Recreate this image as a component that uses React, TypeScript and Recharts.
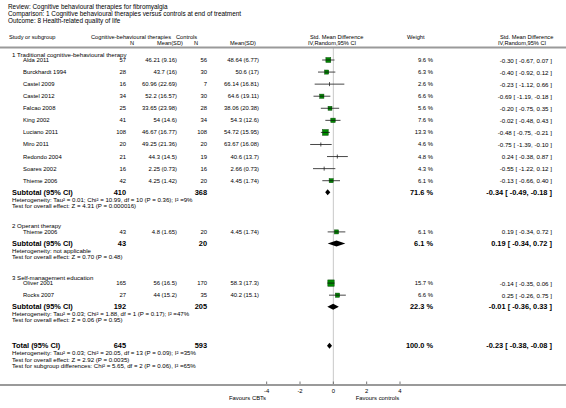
import { ErrorBar, ReferenceLine, Scatter, ScatterChart, XAxis, YAxis } from 'recharts'

const FONT = '"Liberation Sans", Arial, Helvetica, sans-serif'

const titleLines = [
  'Review:  Cognitive behavioural therapies for fibromyalgia',
  'Comparison:  1 Cognitive behavioural therapies versus controls at end of treatment',
  'Outcome:  8 Health-related quality of life',
]

const groupTitles = [
  '1 Traditional cognitive-behavioural therapy',
  '2 Operant therapy',
  '3 Self-management education',
]

// one entry per study row
const studyNames = [
  'Alda 2011', 'Burckhardt 1994', 'Castel 2009', 'Castel 2012', 'Falcao 2008', 'King 2002',
  'Luciano 2011', 'Miro 2011', 'Redondo 2004', 'Soares 2002', 'Thieme 2006',
  'Thieme 2006',
  'Oliver 2001', 'Rocks 2007',
]
const studyGroup = [0, 0, 0, 0, 0, 0, 0, 0, 0, 0, 0, 1, 2, 2]
const cbtN = [57, 28, 16, 34, 25, 41, 108, 20, 21, 16, 42, 43, 165, 27]
const cbtMeanSd = [
  '46.21 (9.16)', '43.7 (16)', '60.96 (22.69)', '52.2 (16.57)', '33.65 (23.98)', '54 (14.6)',
  '46.67 (16.77)', '49.25 (21.36)', '44.3 (14.5)', '2.25 (0.73)', '4.25 (1.42)',
  '4.8 (1.65)',
  '56 (16.5)', '44 (15.2)',
]
const ctlN = [56, 30, 7, 30, 28, 34, 108, 20, 19, 16, 20, 20, 170, 35]
const ctlMeanSd = [
  '48.64 (6.77)', '50.6 (17)', '66.14 (16.81)', '64.6 (19.11)', '38.06 (20.38)', '54.3 (12.6)',
  '54.72 (15.95)', '63.67 (16.08)', '40.6 (13.7)', '2.66 (0.73)', '4.45 (1.74)',
  '4.45 (1.74)',
  '58.3 (17.3)', '40.2 (15.1)',
]
const smd = [-0.3, -0.4, -0.23, -0.69, -0.2, -0.02, -0.48, -0.75, 0.24, -0.55, -0.13, 0.19, -0.14, 0.25]
const ciLow = [-0.67, -0.92, -1.12, -1.19, -0.75, -0.48, -0.75, -1.39, -0.38, -1.22, -0.66, -0.34, -0.35, -0.26]
const ciHigh = [0.07, 0.12, 0.66, -0.18, 0.35, 0.43, -0.21, -0.1, 0.87, 0.12, 0.4, 0.72, 0.06, 0.75]
const weights = [9.6, 6.3, 2.6, 6.6, 5.6, 7.6, 13.3, 4.6, 4.8, 4.3, 6.1, 6.1, 15.7, 6.6]

// subtotals (one per group) + overall total
const summaryLabels = ['Subtotal (95% CI)', 'Subtotal (95% CI)', 'Subtotal (95% CI)', 'Total (95% CI)']
const summaryCbtN = [410, 43, 192, 645]
const summaryCtlN = [368, 20, 205, 593]
const summaryWeight = [71.6, 6.1, 22.3, 100.0]
const summaryEst = [-0.34, 0.19, -0.01, -0.23]
const summaryLow = [-0.49, -0.34, -0.36, -0.38]
const summaryHigh = [-0.18, 0.72, 0.33, -0.08]
const summaryNotes = [
  [
    'Heterogeneity: Tau² = 0.01; Chi² = 10.99, df = 10 (P = 0.36); I² =9%',
    'Test for overall effect: Z = 4.31 (P = 0.000016)',
  ],
  ['Heterogeneity: not applicable', 'Test for overall effect: Z = 0.70 (P = 0.48)'],
  [
    'Heterogeneity: Tau² = 0.03; Chi² = 1.88, df = 1 (P = 0.17); I² =47%',
    'Test for overall effect: Z = 0.06 (P = 0.95)',
  ],
  [
    'Heterogeneity: Tau² = 0.03; Chi² = 20.05, df = 13 (P = 0.09); I² =35%',
    'Test for overall effect: Z = 2.92 (P = 0.0035)',
    'Test for subgroup differences: Chi² = 5.65, df = 2 (P = 0.06), I² =65%',
  ],
]

const xTicks = [-4, -2, 0, 2, 4]

// layout (px units below the header rule)
const W = 566
const H = 408
const RULE_Y = 48
const AXIS_Y = 384.5
const LABEL_STEP = 6
const STUDY_STEP = 12.07
const SUMMARY_STEP = 11.5
const NOTE_FIRST = 7
const NOTE_STEP = 6.2
const GROUP_GAP = 20.5
const TOTAL_GAP = 14.5

const COL = {
  label: 12,
  study: 23,
  cbtN: 126,
  cbtMean: 177,
  ctlN: 207,
  ctlMean: 259,
  weight: 433,
  ci: 552,
}

const SIZE = { title: 6.4, head: 5.7, row: 5.9, ci: 6.2, note: 6.1, bold: 7.4 }

const fmt = (v: number) => v.toFixed(2)
const ciText = (e: number, lo: number, hi: number) => `${fmt(e)} [ ${fmt(lo)}, ${fmt(hi)} ]`

type NoteRow = { x: number; y: number; text: string }
type StudyRow = { x: number; y: number; i: number; err: [number, number] }
type SummaryPoint = { x: number; y: number; s?: number }

const noteRows: NoteRow[] = []
const studyRows: StudyRow[] = []
const summaryData: SummaryPoint[][] = []

let cursor = 0
const addSummary = (s: number) => {
  cursor += SUMMARY_STEP
  summaryData.push([
    { x: summaryLow[s], y: cursor },
    { x: summaryEst[s], y: cursor, s },
    { x: summaryHigh[s], y: cursor },
  ])
  summaryNotes[s].forEach((text, k) => {
    cursor += k === 0 ? NOTE_FIRST : NOTE_STEP
    noteRows.push({ x: 0, y: cursor, text })
  })
}
groupTitles.forEach((title, g) => {
  cursor += g === 0 ? LABEL_STEP : GROUP_GAP
  noteRows.push({ x: 0, y: cursor, text: title })
  cursor += LABEL_STEP - STUDY_STEP
  studyGroup.forEach((sg, i) => {
    if (sg !== g) return
    cursor += STUDY_STEP
    studyRows.push({ x: smd[i], y: cursor, i, err: [smd[i] - ciLow[i], ciHigh[i] - smd[i]] })
  })
  addSummary(g)
})
cursor += TOTAL_GAP
addSummary(3)

const txt = (size: number, bold = false) => ({
  fontFamily: FONT,
  fontSize: size,
  fontWeight: bold ? 700 : 400,
  fill: '#000',
  dominantBaseline: 'central' as const,
})

function StudyShape(props: any) {
  const { cx, cy, payload } = props
  const i = payload.i
  const w = weights[i]
  const side = 2.6 + 0.24 * w
  return (
    <g>
      {w < 5 ? (
        <line x1={cx} x2={cx} y1={cy - 2} y2={cy + 2} stroke="#222" strokeWidth={0.8} />
      ) : (
        <g>
          <rect x={cx - side / 2} y={cy - side / 2} width={side} height={side} fill="#008a00" stroke="#0a4a0a" strokeWidth={0.5} />
          <line x1={cx - side / 2} x2={cx + side / 2} y1={cy} y2={cy} stroke="#111" strokeWidth={0.8} />
        </g>
      )}
      <text x={COL.study} y={cy} {...txt(SIZE.row)}>{studyNames[i]}</text>
      <text x={COL.cbtN} y={cy} textAnchor="end" {...txt(SIZE.row)}>{cbtN[i]}</text>
      <text x={COL.cbtMean} y={cy} textAnchor="end" {...txt(SIZE.row)}>{cbtMeanSd[i]}</text>
      <text x={COL.ctlN} y={cy} textAnchor="end" {...txt(SIZE.row)}>{ctlN[i]}</text>
      <text x={COL.ctlMean} y={cy} textAnchor="end" {...txt(SIZE.row)}>{ctlMeanSd[i]}</text>
      <text x={COL.weight} y={cy} textAnchor="end" {...txt(SIZE.row)}>{`${w.toFixed(1)} %`}</text>
      <text x={COL.ci} y={cy} textAnchor="end" {...txt(SIZE.ci)}>{ciText(smd[i], ciLow[i], ciHigh[i])}</text>
    </g>
  )
}

function SummaryShape(props: any) {
  const { cy, payload } = props
  const s = payload.s
  if (s === undefined) return <g />
  return (
    <g>
      <text x={COL.label} y={cy} {...txt(SIZE.bold, true)}>{summaryLabels[s]}</text>
      <text x={COL.cbtN} y={cy} textAnchor="end" {...txt(SIZE.bold, true)}>{summaryCbtN[s]}</text>
      <text x={COL.ctlN} y={cy} textAnchor="end" {...txt(SIZE.bold, true)}>{summaryCtlN[s]}</text>
      <text x={COL.weight} y={cy} textAnchor="end" {...txt(SIZE.bold, true)}>{`${summaryWeight[s].toFixed(1)} %`}</text>
      <text x={COL.ci} y={cy} textAnchor="end" {...txt(SIZE.bold, true)}>
        {ciText(summaryEst[s], summaryLow[s], summaryHigh[s])}
      </text>
    </g>
  )
}

// diamond from the three points lo / estimate / hi
function Diamond(props: any) {
  const pts = props.points as { x: number; y: number }[]
  if (!pts || pts.length < 3) return <g />
  const [a, b, c] = pts
  const h = 3
  return <polygon points={`${a.x},${a.y} ${b.x},${b.y - h} ${c.x},${c.y} ${b.x},${b.y + h}`} fill="#000" stroke="none" />
}

function NoteShape(props: any) {
  const { cy, payload } = props
  return <text x={COL.label} y={cy} {...txt(SIZE.note)}>{payload.text}</text>
}

function AxisTick(props: any) {
  const { x, y, payload } = props
  return (
    <g>
      <line x1={x} x2={x} y1={y - 3} y2={y} stroke="#555" strokeWidth={0.8} />
      <text x={x} y={y + 6} textAnchor="middle" {...txt(SIZE.row)}>{payload.value}</text>
    </g>
  )
}

export default function App() {
  return (
    <div style={{ position: 'absolute', left: 0, top: 0, width: W, height: H, background: '#fff' }}>
      <ScatterChart
        width={W}
        height={H}
        margin={{ top: RULE_Y, right: W - 400, left: 266.67, bottom: 0 }}
      >
        <XAxis
          type="number"
          dataKey="x"
          domain={[-4, 4]}
          ticks={xTicks}
          axisLine={false}
          tickLine={false}
          tickSize={0}
          tickMargin={0}
          height={H - AXIS_Y}
          tick={<AxisTick />}
        />
        <YAxis type="number" dataKey="y" domain={[0, AXIS_Y - RULE_Y]} reversed hide />
        <ReferenceLine x={0} stroke="#c8c8c8" strokeWidth={1} />
        <Scatter data={noteRows} shape={<NoteShape />} isAnimationActive={false} />
        <Scatter data={studyRows} shape={<StudyShape />} isAnimationActive={false}>
          <ErrorBar dataKey="err" direction="x" width={0} stroke="#333" strokeWidth={0.9} />
        </Scatter>
        {summaryData.map((d, k) => (
          <Scatter key={k} data={d} shape={<SummaryShape />} line={<Diamond />} isAnimationActive={false} />
        ))}
      </ScatterChart>
      <svg width={W} height={H} style={{ position: 'absolute', left: 0, top: 0, pointerEvents: 'none' }}>
        {titleLines.map((t, k) => (
          <text key={k} x={8} y={6 + k * 7} {...txt(SIZE.title)}>{t}</text>
        ))}
        <text x={9} y={36.5} {...txt(SIZE.head)}>Study or subgroup</text>
        <text x={91} y={36.5} {...txt(SIZE.head)}>Cognitive-behavioural therapies</text>
        <text x={176} y={36.5} {...txt(SIZE.head)}>Controls</text>
        <text x={134} y={42.5} textAnchor="end" {...txt(SIZE.head)}>N</text>
        <text x={157} y={42.5} {...txt(SIZE.head)}>Mean(SD)</text>
        <text x={198} y={42.5} textAnchor="end" {...txt(SIZE.head)}>N</text>
        <text x={230} y={42.5} {...txt(SIZE.head)}>Mean(SD)</text>
        <text x={310} y={36.5} {...txt(SIZE.head)}>Std. Mean Difference</text>
        <text x={308} y={42.5} {...txt(SIZE.head)}>IV,Random,95% CI</text>
        <text x={407} y={36.5} {...txt(SIZE.head)}>Weight</text>
        <text x={500} y={36.5} {...txt(SIZE.head)}>Std. Mean Difference</text>
        <text x={498} y={42.5} {...txt(SIZE.head)}>IV,Random,95% CI</text>
        <line x1={0} x2={W} y1={RULE_Y - 0.5} y2={RULE_Y - 0.5} stroke="#9a9a9a" strokeWidth={2} />
        <line x1={0} x2={W} y1={AXIS_Y + 0.5} y2={AXIS_Y + 0.5} stroke="#9a9a9a" strokeWidth={2} />
        <text x={247.5} y={397.5} textAnchor="middle" {...txt(SIZE.row)}>Favours CBTs</text>
        <text x={377.5} y={397.5} textAnchor="middle" {...txt(SIZE.row)}>Favours controls</text>
      </svg>
    </div>
  )
}
